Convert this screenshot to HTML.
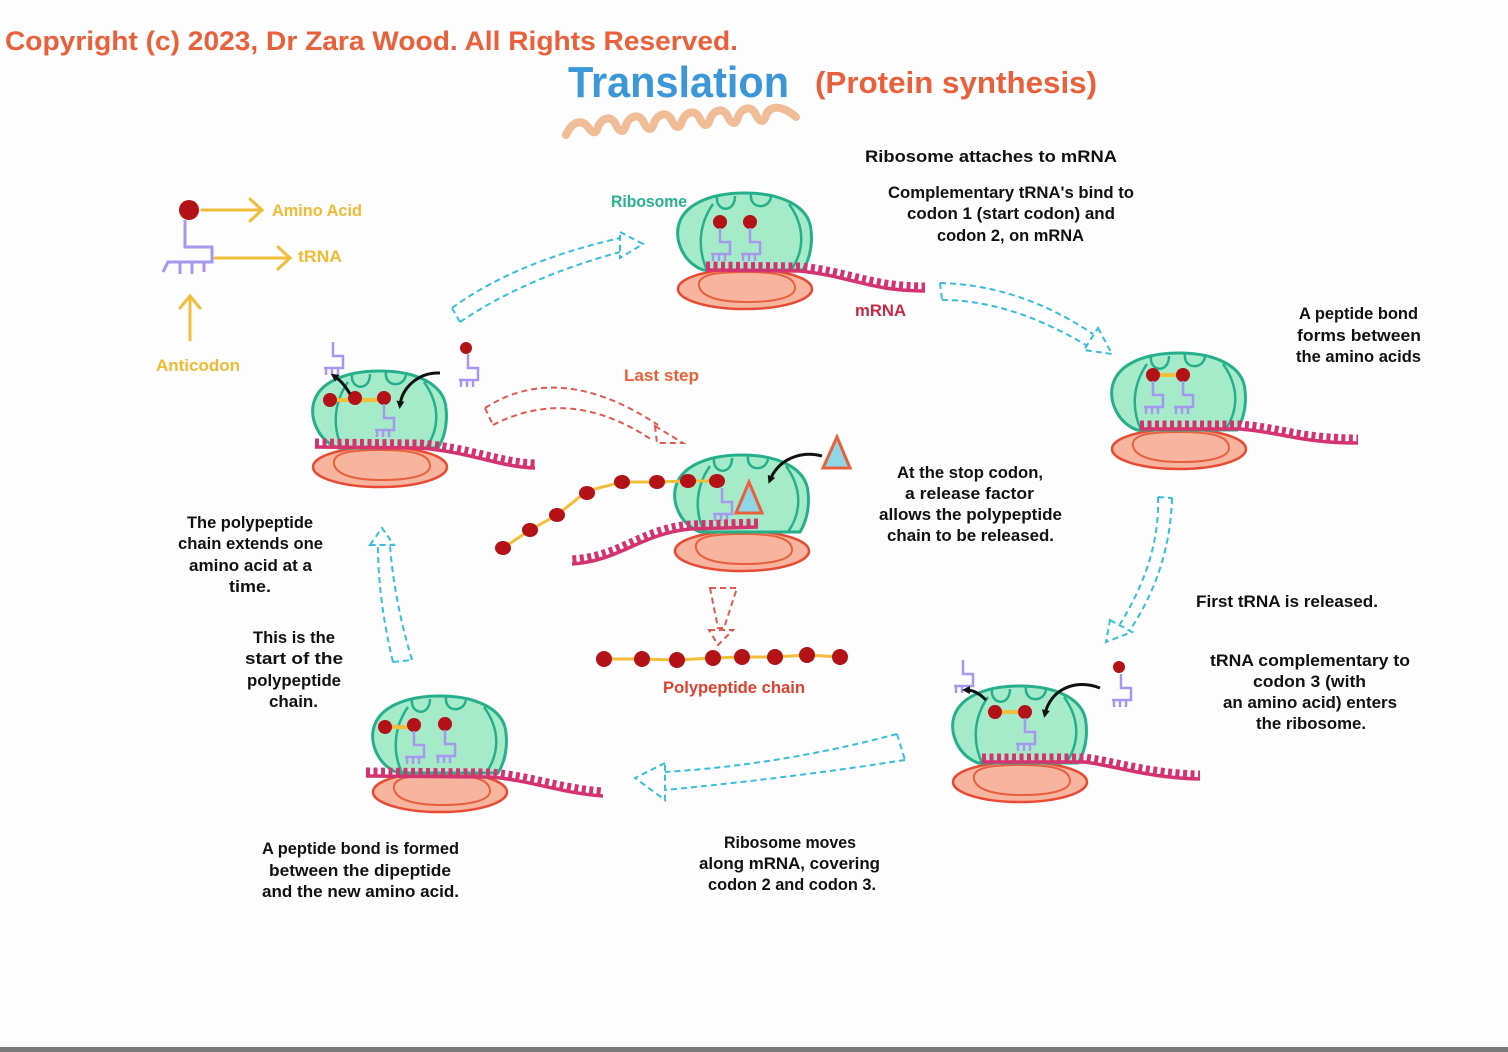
<!DOCTYPE html>
<html><head><meta charset="utf-8"><style>
html,body{margin:0;padding:0;background:#fdfdfd;}
svg{display:block;}
text{font-family:"Liberation Sans",sans-serif;font-weight:bold;}
.b{fill:#111;font-size:17px;}
</style></head><body>
<svg width="1508" height="1052" viewBox="0 0 1508 1052" xmlns="http://www.w3.org/2000/svg">
<defs>
  <marker id="ah" markerWidth="8" markerHeight="8" refX="4" refY="4" orient="auto" markerUnits="userSpaceOnUse">
    <path d="M0,0 L8,4 L0,8 Z" fill="#111"/>
  </marker>
  <g id="rib">
    <ellipse cx="68" cy="99" rx="67" ry="20" fill="#f7b5a0" stroke="#e84a34" stroke-width="2.5"/>
    <path d="M22,96 C20,84 40,82 70,82 C100,82 118,86 118,98 C118,108 96,112 70,112 C40,112 24,106 22,96 Z" fill="none" stroke="#e8603c" stroke-width="2"/>
    <path d="M26,80 C6,72 -1,52 1,38 C5,14 34,3 68,3 C104,3 132,16 134,40 C136,58 131,72 126,80 Z" fill="#a6ebc9" stroke="#25b08b" stroke-width="3"/>
    <path d="M36,14 C22,34 20,58 30,80" fill="none" stroke="#25b08b" stroke-width="2.5"/>
    <path d="M112,14 C128,36 128,60 114,80" fill="none" stroke="#25b08b" stroke-width="2.5"/>
    <path d="M40,6 C38,22 58,24 58,6" fill="none" stroke="#25b08b" stroke-width="2.5"/>
    <path d="M74,4 C72,20 94,20 94,5" fill="none" stroke="#25b08b" stroke-width="2.5"/>
  </g>
  <g id="trna" fill="none" stroke="#a797f0" stroke-width="2.5">
    <path d="M0,6 V20 H10 V32 H-9"/>
    <path d="M-7,32 V39 M-1,32 V39 M5,32 V39"/>
  </g>
</defs>

<rect x="0" y="1047" width="1508" height="5" fill="#7a7a7a"/>

<!-- Titles -->
<text x="5" y="50" fill="#e9603a" font-size="27" textLength="733" lengthAdjust="spacingAndGlyphs">Copyright (c) 2023, Dr Zara Wood. All Rights Reserved.</text>
<path transform="translate(0,9)" d="M566,126 C572,112 582,110 588,118 C592,124 596,126 598,118 C602,108 612,106 616,116 C620,124 624,124 626,116 C630,106 640,104 644,114 C648,122 652,122 654,114 C658,104 668,102 672,112 C676,120 680,120 682,112 C686,102 696,100 700,110 C704,118 708,118 710,110 C714,100 724,98 728,108 C732,116 736,116 738,108 C742,98 752,96 756,106 C760,114 764,114 766,106 C770,96 782,96 796,108" fill="none" stroke="#f0bd96" stroke-width="8" stroke-linecap="round" stroke-linejoin="round"/>
<text x="568" y="97" fill="#3b97d8" font-size="44" textLength="221" lengthAdjust="spacingAndGlyphs">Translation</text>
<text x="815" y="93" fill="#e9603a" font-size="31" textLength="282" lengthAdjust="spacingAndGlyphs">(Protein synthesis)</text>

<!-- Legend -->
<g stroke="#a797f0" stroke-width="3" fill="none">
  <path d="M185,220 V247 H212 V262 H168 L163,272"/>
  <path d="M180,262 V274 M192,262 V274 M204,262 V272"/>
</g>
<circle cx="189" cy="210" r="10" fill="#b31217"/>
<g stroke="#f2bd3a" stroke-width="3" fill="none" stroke-linecap="round">
  <path d="M202,210 H262 M250,199 L262,210 L250,221"/>
  <path d="M215,258 H290 M278,247 L290,258 L278,269"/>
  <path d="M190,340 V297 M180,308 L190,296 L200,308"/>
</g>
<text x="272" y="216" fill="#f0ba32" font-size="17" textLength="90" lengthAdjust="spacingAndGlyphs">Amino Acid</text>
<text x="298" y="262" fill="#f0ba32" font-size="17" textLength="44" lengthAdjust="spacingAndGlyphs">tRNA</text>
<text x="156" y="371" fill="#f0ba32" font-size="17" textLength="84" lengthAdjust="spacingAndGlyphs">Anticodon</text>

<!-- Top ribosome -->
<use href="#rib" x="677" y="190"/>
<circle cx="720" cy="222" r="7" fill="#b31217"/>
<circle cx="750" cy="222" r="7" fill="#b31217"/>
<use href="#trna" x="720" y="222"/>
<use href="#trna" x="750" y="222"/>
<g fill="none" stroke="#d4336f" stroke-linecap="butt">
  <path d="M706,270 L800,271 C850,276 870,291 925,291" stroke-width="3.5"/>
  <path d="M706,265 L800,266 C850,271 870,286 925,286" stroke-width="7" stroke-dasharray="4 3.5"/>
</g>
<text x="611" y="207" fill="#28b38e" font-size="17" textLength="76" lengthAdjust="spacingAndGlyphs">Ribosome</text>
<text x="855" y="316" fill="#c82a45" font-size="17" textLength="51" lengthAdjust="spacingAndGlyphs">mRNA</text>

<!-- Right ribosome -->
<use href="#rib" x="1111" y="350"/>
<path d="M1153,375 H1183" stroke="#f2bf3a" stroke-width="4"/>
<circle cx="1153" cy="375" r="7" fill="#b31217"/>
<circle cx="1183" cy="375" r="7" fill="#b31217"/>
<use href="#trna" x="1153" y="375"/>
<use href="#trna" x="1183" y="375"/>
<g fill="none" stroke="#d4336f">
  <path d="M1140,429 L1240,429 C1280,432 1300,443 1358,443" stroke-width="3.5"/>
  <path d="M1140,424 L1240,424 C1280,427 1300,438 1358,438" stroke-width="7" stroke-dasharray="4 3.5"/>
</g>

<!-- Bottom-right ribosome -->
<use href="#rib" x="952" y="683"/>
<path d="M995,712 H1025" stroke="#f2bf3a" stroke-width="4"/>
<circle cx="995" cy="712" r="7" fill="#b31217"/>
<circle cx="1025" cy="712" r="7" fill="#b31217"/>
<use href="#trna" x="1025" y="712"/>
<g fill="none" stroke="#d4336f">
  <path d="M982,762 L1085,762 C1120,767 1150,778 1200,779" stroke-width="3.5"/>
  <path d="M982,757 L1085,757 C1120,762 1150,773 1200,774" stroke-width="7" stroke-dasharray="4 3.5"/>
</g>
<use href="#trna" x="963" y="654"/>
<circle cx="1119" cy="667" r="6" fill="#b31217"/>
<use href="#trna" x="1121" y="668"/>
<path d="M986,700 C978,692 972,690 966,690" fill="none" stroke="#111" stroke-width="3" marker-end="url(#ah)"/>
<path d="M1100,688 C1075,678 1050,690 1045,714" fill="none" stroke="#111" stroke-width="3" marker-end="url(#ah)"/>

<!-- Bottom-left ribosome -->
<use href="#rib" x="372" y="693"/>
<path d="M385,727 H414" stroke="#f2bf3a" stroke-width="4"/>
<circle cx="385" cy="727" r="7" fill="#b31217"/>
<circle cx="414" cy="725" r="7" fill="#b31217"/>
<circle cx="445" cy="724" r="7" fill="#b31217"/>
<use href="#trna" x="414" y="725"/>
<use href="#trna" x="445" y="724"/>
<g fill="none" stroke="#d4336f">
  <path d="M366,776 L490,777 C530,780 560,793 603,796" stroke-width="3.5"/>
  <path d="M366,771 L490,772 C530,775 560,788 603,791" stroke-width="7" stroke-dasharray="4 3.5"/>
</g>

<!-- Left ribosome -->
<use href="#rib" x="312" y="368"/>
<path d="M330,400 H384" stroke="#f2bf3a" stroke-width="4"/>
<circle cx="330" cy="400" r="7" fill="#b31217"/>
<circle cx="355" cy="398" r="7" fill="#b31217"/>
<circle cx="384" cy="398" r="7" fill="#b31217"/>
<use href="#trna" x="384" y="398"/>
<g fill="none" stroke="#d4336f">
  <path d="M315,447 L420,448 C470,452 500,467 535,468" stroke-width="3.5"/>
  <path d="M315,442 L420,443 C470,447 500,462 535,463" stroke-width="7" stroke-dasharray="4 3.5"/>
</g>
<use href="#trna" x="333" y="336"/>
<circle cx="466" cy="348" r="6" fill="#b31217"/>
<use href="#trna" x="468" y="348"/>
<path d="M350,394 C344,384 340,380 334,376" fill="none" stroke="#111" stroke-width="3" marker-end="url(#ah)"/>
<path d="M440,373 C418,372 402,388 400,405" fill="none" stroke="#111" stroke-width="3" marker-end="url(#ah)"/>

<!-- Center ribosome (last step) -->
<use href="#rib" x="674" y="452"/>
<path d="M503,548 L530,530 L557,515 L587,491 L622,482 L657,482 L688,481 L717,481" fill="none" stroke="#f2bf3a" stroke-width="3"/>
<g fill="#b31217">
  <ellipse cx="503" cy="548" rx="8" ry="7"/><ellipse cx="530" cy="530" rx="8" ry="7"/>
  <ellipse cx="557" cy="515" rx="8" ry="7"/><ellipse cx="587" cy="493" rx="8" ry="7"/>
  <ellipse cx="622" cy="482" rx="8" ry="7"/><ellipse cx="657" cy="482" rx="8" ry="7"/>
  <ellipse cx="688" cy="481" rx="8" ry="7"/><ellipse cx="717" cy="481" rx="8" ry="7"/>
</g>
<use href="#trna" x="722" y="482"/>
<path d="M736,513 L762,513 L749,482 Z" fill="#8fd6e8" stroke="#e8603c" stroke-width="3"/>
<path d="M823,468 L850,468 L837,437 Z" fill="#8fd6e8" stroke="#e8603c" stroke-width="3"/>
<path d="M822,456 C800,450 778,460 770,480" fill="none" stroke="#111" stroke-width="3" marker-end="url(#ah)"/>
<g fill="none" stroke="#d4336f">
  <path d="M758,527 L690,529 C640,534 620,561 572,564" stroke-width="3.5"/>
  <path d="M758,522 L690,524 C640,529 620,556 572,559" stroke-width="7" stroke-dasharray="4 3.5"/>
</g>

<!-- Polypeptide chain -->
<path d="M604,659 L642,659 L677,660 L713,658 L742,657 L775,657 L807,655 L840,657" fill="none" stroke="#f2bf3a" stroke-width="3"/>
<g fill="#b31217">
  <circle cx="604" cy="659" r="8"/><circle cx="642" cy="659" r="8"/><circle cx="677" cy="660" r="8"/>
  <circle cx="713" cy="658" r="8"/><circle cx="742" cy="657" r="8"/><circle cx="775" cy="657" r="8"/>
  <circle cx="807" cy="655" r="8"/><circle cx="840" cy="657" r="8"/>
</g>
<text x="663" y="693" fill="#e0402e" font-size="17" textLength="142" lengthAdjust="spacingAndGlyphs">Polypeptide chain</text>

<!-- Dashed cyan arrows -->
<g fill="none" stroke="#35bfdc" stroke-width="2" stroke-dasharray="6 4">
  <path d="M452,308 Q515,262 620,238 M460,322 Q525,278 620,252 M452,308 L460,322 M620,232 L643,244 L620,258 Z"/>
  <path d="M940,283 Q1020,285 1093,334 M942,300 Q1010,300 1086,345 M940,283 L942,300 M1098,328 L1112,354 L1084,350 Z"/>
  <path d="M1158,497 Q1160,560 1120,624 M1172,498 Q1170,570 1130,630 M1158,497 L1172,498 M1110,620 L1132,632 L1106,642 Z"/>
  <path d="M897,734 Q780,765 665,772 M905,760 Q790,778 665,790 M897,734 L905,760 M665,763 L635,778 L665,800 Z"/>
  <path d="M393,662 Q378,600 378,545 M412,660 Q394,600 390,545 M393,662 L412,660 M370,545 L382,528 L394,545 Z"/>
</g>
<!-- Dashed red arrows -->
<g fill="none" stroke="#e05a4e" stroke-width="2" stroke-dasharray="6 4">
  <path d="M485,408 Q560,360 658,425 M493,425 Q570,385 652,440 M485,408 L493,425 M655,426 L683,443 L657,443 Z"/>
  <path d="M710,588 L737,588 L724,628 L718,628 Z M709,630 L733,630 L718,645 Z"/>
</g>
<text x="624" y="381" fill="#e9603a" font-size="17" textLength="75" lengthAdjust="spacingAndGlyphs">Last step</text>

<!-- Black labels -->
<text class="b" x="865" y="162" textLength="252" lengthAdjust="spacingAndGlyphs">Ribosome attaches to mRNA</text>
<text class="b" x="888" y="198" textLength="246" lengthAdjust="spacingAndGlyphs">Complementary tRNA's bind to</text>
<text class="b" x="907" y="219" textLength="208" lengthAdjust="spacingAndGlyphs">codon 1 (start codon) and</text>
<text class="b" x="937" y="241" textLength="147" lengthAdjust="spacingAndGlyphs">codon 2, on mRNA</text>

<text class="b" x="1299" y="319" textLength="119" lengthAdjust="spacingAndGlyphs">A peptide bond</text>
<text class="b" x="1297" y="341" textLength="124" lengthAdjust="spacingAndGlyphs">forms between</text>
<text class="b" x="1296" y="362" textLength="125" lengthAdjust="spacingAndGlyphs">the amino acids</text>

<text class="b" x="897" y="478" textLength="146" lengthAdjust="spacingAndGlyphs">At the stop codon,</text>
<text class="b" x="905" y="499" textLength="129" lengthAdjust="spacingAndGlyphs">a release factor</text>
<text class="b" x="879" y="520" textLength="183" lengthAdjust="spacingAndGlyphs">allows the polypeptide</text>
<text class="b" x="887" y="541" textLength="167" lengthAdjust="spacingAndGlyphs">chain to be released.</text>

<text class="b" x="187" y="528" textLength="126" lengthAdjust="spacingAndGlyphs">The polypeptide</text>
<text class="b" x="178" y="549" textLength="145" lengthAdjust="spacingAndGlyphs">chain extends one</text>
<text class="b" x="189" y="571" textLength="123" lengthAdjust="spacingAndGlyphs">amino acid at a</text>
<text class="b" x="229" y="592" textLength="42" lengthAdjust="spacingAndGlyphs">time.</text>

<text class="b" x="253" y="643" textLength="82" lengthAdjust="spacingAndGlyphs">This is the</text>
<text class="b" x="245" y="664" textLength="98" lengthAdjust="spacingAndGlyphs">start of the</text>
<text class="b" x="247" y="686" textLength="94" lengthAdjust="spacingAndGlyphs">polypeptide</text>
<text class="b" x="269" y="707" textLength="49" lengthAdjust="spacingAndGlyphs">chain.</text>

<text class="b" x="1196" y="607" textLength="182" lengthAdjust="spacingAndGlyphs">First tRNA is released.</text>

<text class="b" x="1210" y="666" textLength="200" lengthAdjust="spacingAndGlyphs">tRNA complementary to</text>
<text class="b" x="1253" y="687" textLength="113" lengthAdjust="spacingAndGlyphs">codon 3 (with</text>
<text class="b" x="1223" y="708" textLength="174" lengthAdjust="spacingAndGlyphs">an amino acid) enters</text>
<text class="b" x="1256" y="729" textLength="110" lengthAdjust="spacingAndGlyphs">the ribosome.</text>

<text class="b" x="262" y="854" textLength="197" lengthAdjust="spacingAndGlyphs">A peptide bond is formed</text>
<text class="b" x="269" y="876" textLength="182" lengthAdjust="spacingAndGlyphs">between the dipeptide</text>
<text class="b" x="262" y="897" textLength="197" lengthAdjust="spacingAndGlyphs">and the new amino acid.</text>

<text class="b" x="724" y="848" textLength="132" lengthAdjust="spacingAndGlyphs">Ribosome moves</text>
<text class="b" x="699" y="869" textLength="181" lengthAdjust="spacingAndGlyphs">along mRNA, covering</text>
<text class="b" x="708" y="890" textLength="168" lengthAdjust="spacingAndGlyphs">codon 2 and codon 3.</text>
</svg>
</body></html>
